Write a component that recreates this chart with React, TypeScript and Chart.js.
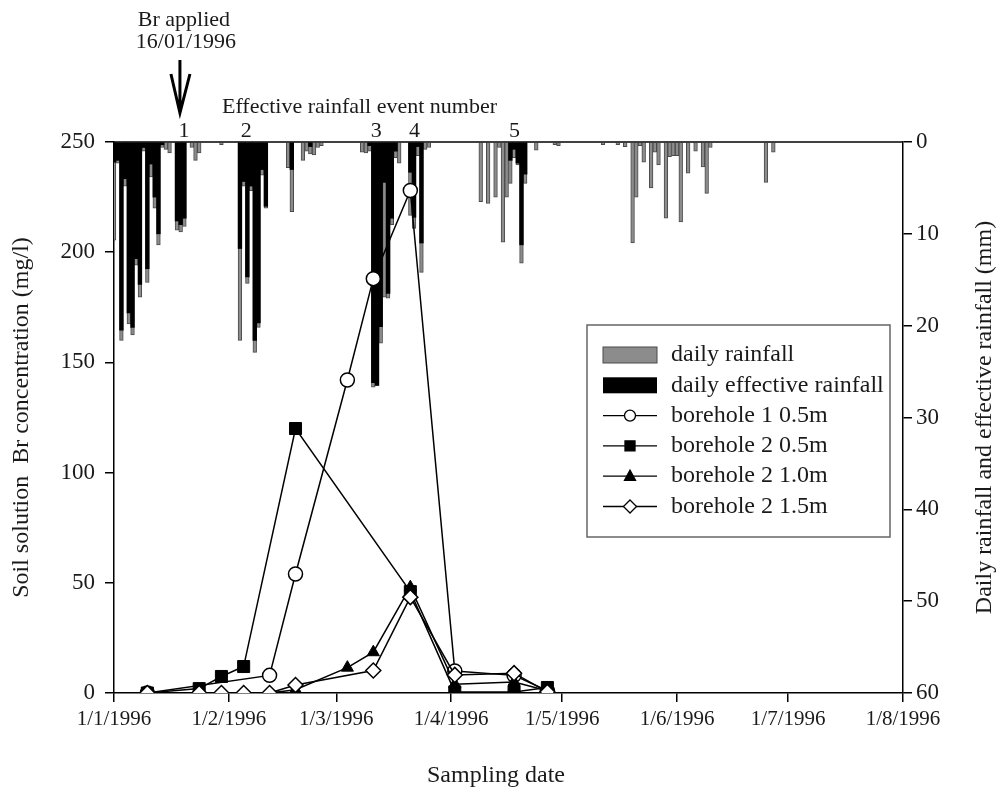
import React, { useEffect, useRef } from 'react';
import { Chart, registerables } from 'chart.js';

Chart.register(...registerables);

const FONT = "'Liberation Serif', 'Times New Roman', serif";

// x axis: day of year 1996 (0 = 1 Jan 1996)
const tickDays = [0, 31, 60, 91, 121, 152, 182, 213];
const tickLabels = ['1/1/1996', '1/2/1996', '1/3/1996', '1/4/1996', '1/5/1996', '1/6/1996', '1/7/1996', '1/8/1996'];

// daily rainfall (mm) and daily effective rainfall (mm)
const rainDays = [
  0, 1, 2, 3, 4, 5, 6, 7, 8, 9, 10, 11, 12, 13, 14, 15, 17, 18, 19, 21, 22, 23, 29,
  34, 35, 36, 37, 38, 39, 40, 41, 47, 48, 51, 52, 53, 54, 55, 56,
  67, 68, 69, 70, 71, 72, 73, 74, 75, 76, 77, 80, 81, 82, 83, 84, 85,
  99, 101, 103, 104, 105, 106, 107, 108, 109, 110, 111, 114, 119, 120, 132,
  136, 138, 140, 141, 142, 143, 145, 146, 147, 149, 150, 151, 152, 153, 155, 157, 159, 160, 161, 176, 178,
];
const rainTotal = [
  10.7, 2.3, 21.6, 4.8, 19.8, 21.0, 13.4, 16.9, 1.0, 15.3, 3.8, 7.2, 11.2, 0.6, 0.8, 1.2, 9.6, 9.8, 9.2, 0.6, 2.0, 1.2, 0.3,
  21.6, 4.8, 15.4, 5.3, 22.9, 20.2, 3.6, 7.2, 2.8, 7.6, 2.0, 1.0, 1.3, 1.4, 0.6, 0.4,
  1.1, 1.2, 1.0, 26.7, 26.5, 21.9, 16.9, 17.0, 9.0, 1.7, 2.3, 8.0, 9.4, 1.5, 14.2, 0.8, 0.6,
  6.5, 6.7, 6.0, 0.6, 10.9, 6.0, 4.5, 1.7, 2.5, 13.2, 4.5, 0.9, 0.3, 0.4, 0.3,
  0.3, 0.5, 11.0, 6.0, 0.4, 2.2, 5.0, 1.1, 2.5, 8.3, 1.6, 1.5, 1.5, 8.7, 3.4, 1.0, 2.7, 5.6, 0.6, 4.4, 1.1,
];
const rainEffective = [
  2.2, 2.0, 20.5, 4.0, 18.6, 20.2, 12.7, 15.5, 0.6, 13.8, 2.4, 6.0, 10.0, 0.3, 0, 0, 8.6, 9.0, 8.3, 0, 0, 0, 0,
  11.6, 4.3, 14.7, 4.8, 21.6, 19.7, 3.0, 7.0, 0, 3.0, 0, 0, 0.5, 0, 0, 0,
  0, 0, 0.4, 26.2, 26.5, 20.1, 4.4, 16.5, 8.3, 1.0, 0, 3.3, 8.2, 0.5, 11.0, 0, 0,
  0, 0, 0, 0, 0, 0, 2.0, 0.8, 2.3, 11.2, 3.5, 0, 0, 0, 0,
  0, 0, 0, 0, 0, 0, 0, 0, 0, 0, 0, 0, 0, 0, 0, 0, 0, 0, 0, 0, 0,
];

// soil solution Br concentration (mg/l)
const bh1_05Days = [9, 42, 49, 63, 70, 80, 92, 108, 117];
const bh1_05Vals = [0, 8, 54, 142, 188, 228, 10, 8, 1];
const bh2_05Days = [9, 23, 29, 35, 49, 80, 92, 108, 117];
const bh2_05Vals = [0, 2, 7.5, 12, 120, 46, 0.5, 0.5, 2.5];
const bh2_10Days = [9, 23, 29, 35, 42, 49, 63, 70, 80, 92, 108, 117];
const bh2_10Vals = [0, 0, 0, 0, 0, 1.5, 11.5, 18.5, 48, 4, 5, 1];
const bh2_15Days = [9, 23, 29, 35, 42, 49, 70, 80, 92, 108, 117];
const bh2_15Vals = [0, 0, 0, 0, 0, 3.6, 10.2, 43.5, 8.2, 9, 0.5];

const eventDays = [18.9, 35.7, 70.8, 81.1, 108.1];
const eventLabels = ['1', '2', '3', '4', '5'];
const brAppliedDay = 17.8;

const legendLabels = [
  'daily rainfall',
  'daily effective rainfall',
  'borehole 1 0.5m',
  'borehole 2 0.5m',
  'borehole 2 1.0m',
  'borehole 2 1.5m',
];

const pts = (days: number[], vals: number[]) => days.map((d, i) => ({ x: d, y: vals[i] }));

function drawMarker(ctx: CanvasRenderingContext2D, kind: string, x: number, y: number, s: number, fill: string) {
  ctx.beginPath();
  if (kind === 'circle') {
    ctx.arc(x, y, s, 0, Math.PI * 2);
  } else if (kind === 'rect') {
    ctx.rect(x - s, y - s, 2 * s, 2 * s);
  } else if (kind === 'triangle') {
    ctx.moveTo(x, y - s * 1.1);
    ctx.lineTo(x + s, y + s * 0.75);
    ctx.lineTo(x - s, y + s * 0.75);
    ctx.closePath();
  } else {
    ctx.moveTo(x, y - s);
    ctx.lineTo(x + s, y);
    ctx.lineTo(x, y + s);
    ctx.lineTo(x - s, y);
    ctx.closePath();
  }
  ctx.fillStyle = fill;
  ctx.fill();
  ctx.lineWidth = 1.3;
  ctx.strokeStyle = '#000';
  ctx.stroke();
}

const annotationPlugin = {
  id: 'annotations',
  afterDraw(chart: any) {
    const { ctx, chartArea, scales } = chart;
    const xs = scales.x;
    ctx.save();
    // top frame line
    ctx.strokeStyle = '#000';
    ctx.lineWidth = 1.5;
    ctx.beginPath();
    ctx.moveTo(chartArea.left, chartArea.top);
    ctx.lineTo(chartArea.right, chartArea.top);
    ctx.stroke();

    ctx.fillStyle = '#1a1a1a';
    ctx.textBaseline = 'middle';
    ctx.textAlign = 'center';
    ctx.font = `22px ${FONT}`;
    // event numbers
    eventDays.forEach((d, i) => {
      ctx.fillText(eventLabels[i], xs.getPixelForValue(d), chartArea.top - 11);
    });
    ctx.textAlign = 'left';
    ctx.fillText('Effective rainfall event number', 222, 107);
    // Br applied
    const ax = xs.getPixelForValue(brAppliedDay);
    ctx.textAlign = 'center';
    ctx.fillText('Br applied', ax + 4, 20);
    ctx.fillText('16/01/1996', ax + 6, 42);
    ctx.strokeStyle = '#000';
    ctx.lineWidth = 3;
    ctx.beginPath();
    ctx.moveTo(ax, 60);
    ctx.lineTo(ax, 112);
    ctx.moveTo(ax - 9, 74);
    ctx.lineTo(ax, 113);
    ctx.lineTo(ax + 10, 74);
    ctx.stroke();

    // axis titles
    ctx.font = `24px ${FONT}`;
    ctx.textAlign = 'center';
    const cy = (chartArea.top + chartArea.bottom) / 2;
    ctx.save();
    ctx.translate(22, cy);
    ctx.rotate(-Math.PI / 2);
    ctx.fillText('Soil solution  Br concentration (mg/l)', 0, 0);
    ctx.restore();
    ctx.save();
    ctx.translate(985, cy);
    ctx.rotate(-Math.PI / 2);
    ctx.fillText('Daily rainfall and effective rainfall (mm)', 0, 0);
    ctx.restore();
    ctx.fillText('Sampling date', 496, 776);

    // legend
    const lx = 587, ly = 325, lw = 303, lh = 212;
    ctx.fillStyle = '#fff';
    ctx.fillRect(lx, ly, lw, lh);
    ctx.strokeStyle = '#666';
    ctx.lineWidth = 1.5;
    ctx.strokeRect(lx, ly, lw, lh);
    const rowY = (i: number) => 355 + i * 30.3;
    const sx0 = 603, sx1 = 657, smid = 630;
    ctx.font = `24px ${FONT}`;
    ctx.textAlign = 'left';
    legendLabels.forEach((lab, i) => {
      const y = rowY(i);
      if (i === 0) {
        ctx.fillStyle = '#8c8c8c';
        ctx.fillRect(sx0, y - 8, sx1 - sx0, 16);
        ctx.strokeStyle = '#4a4a4a';
        ctx.lineWidth = 1;
        ctx.strokeRect(sx0, y - 8, sx1 - sx0, 16);
      } else if (i === 1) {
        ctx.fillStyle = '#000';
        ctx.fillRect(sx0, y - 8, sx1 - sx0, 16);
      } else {
        ctx.strokeStyle = '#000';
        ctx.lineWidth = 1.3;
        ctx.beginPath();
        ctx.moveTo(sx0, y);
        ctx.lineTo(sx1, y);
        ctx.stroke();
        const kinds = ['circle', 'rect', 'triangle', 'rectRot'];
        const fills = ['#fff', '#000', '#000', '#fff'];
        const sizes = [5.5, 5, 5.5, 6.5];
        drawMarker(ctx, kinds[i - 2], smid, y, sizes[i - 2], fills[i - 2]);
      }
      ctx.fillStyle = '#1a1a1a';
      ctx.fillText(lab, 671, y);
    });
    ctx.restore();
  },
};

export default function App() {
  const canvasRef = useRef<HTMLCanvasElement | null>(null);

  useEffect(() => {
    if (!canvasRef.current) return;
    const xTickFont = { family: FONT, size: 21 };
    const yTickFont = { family: FONT, size: 23 };
    const chart = new Chart(canvasRef.current, {
      data: {
        datasets: [
          {
            type: 'line',
            label: 'borehole 2 1.5m',
            data: pts(bh2_15Days, bh2_15Vals),
            xAxisID: 'x',
            yAxisID: 'yL',
            borderColor: '#000',
            borderWidth: 1.5,
            pointStyle: 'rectRot',
            pointRadius: 7.5,
            pointBackgroundColor: '#fff',
            pointBorderColor: '#000',
            pointBorderWidth: 1.5,
            tension: 0,
            order: 0,
          },
          {
            type: 'line',
            label: 'borehole 2 1.0m',
            data: pts(bh2_10Days, bh2_10Vals),
            xAxisID: 'x',
            yAxisID: 'yL',
            borderColor: '#000',
            borderWidth: 1.5,
            pointStyle: 'triangle',
            pointRadius: 7,
            pointBackgroundColor: '#000',
            pointBorderColor: '#000',
            pointBorderWidth: 1,
            tension: 0,
            order: 1,
          },
          {
            type: 'line',
            label: 'borehole 2 0.5m',
            data: pts(bh2_05Days, bh2_05Vals),
            xAxisID: 'x',
            yAxisID: 'yL',
            borderColor: '#000',
            borderWidth: 1.5,
            pointStyle: 'rect',
            pointRadius: 8.5,
            pointBackgroundColor: '#000',
            pointBorderColor: '#000',
            pointBorderWidth: 1,
            tension: 0,
            order: 2,
          },
          {
            type: 'line',
            label: 'borehole 1 0.5m',
            data: pts(bh1_05Days, bh1_05Vals),
            xAxisID: 'x',
            yAxisID: 'yL',
            borderColor: '#000',
            borderWidth: 1.5,
            pointStyle: 'circle',
            pointRadius: 7,
            pointBackgroundColor: '#fff',
            pointBorderColor: '#000',
            pointBorderWidth: 1.5,
            tension: 0,
            order: 3,
          },
          {
            type: 'bar',
            label: 'daily effective rainfall',
            data: pts(rainDays, rainEffective).filter((p) => p.y > 0),
            xAxisID: 'x',
            yAxisID: 'yR',
            backgroundColor: '#000',
            borderWidth: 0,
            barPercentage: 1,
            categoryPercentage: 1,
            grouped: false,
            order: 4,
          },
          {
            type: 'bar',
            label: 'daily rainfall',
            data: pts(rainDays, rainTotal),
            xAxisID: 'x',
            yAxisID: 'yR',
            backgroundColor: '#8c8c8c',
            borderColor: '#4a4a4a',
            borderWidth: 1,
            barPercentage: 1,
            categoryPercentage: 1,
            grouped: false,
            order: 5,
          },
        ],
      } as any,
      options: {
        responsive: false,
        animation: false,
        devicePixelRatio: 1,
        layout: { padding: { top: 142, left: 0, right: 0, bottom: 0 } },
        plugins: { legend: { display: false }, tooltip: { enabled: false } },
        scales: {
          x: {
            type: 'linear',
            position: 'bottom',
            min: 0,
            max: 213,
            offset: false,
            afterBuildTicks: (axis: any) => {
              axis.ticks = tickDays.map((v) => ({ value: v }));
            },
            afterFit: (axis: any) => {
              axis.height = 100;
            },
            ticks: {
              autoSkip: false,
              maxRotation: 0,
              padding: 5,
              color: '#1a1a1a',
              font: xTickFont,
              callback: (_v: any, i: number) => tickLabels[i],
            },
            grid: { display: true, drawOnChartArea: false, tickLength: 9, color: '#000', lineWidth: 1.5, offset: false },
            border: { display: true, color: '#000', width: 1.5 },
          },
          yL: {
            type: 'linear',
            position: 'left',
            min: 0,
            max: 250,
            afterFit: (axis: any) => {
              axis.width = 114;
            },
            ticks: { stepSize: 50, padding: 10, color: '#1a1a1a', font: yTickFont },
            grid: { display: true, drawOnChartArea: false, tickLength: 9, color: '#000', lineWidth: 1.5 },
            border: { display: true, color: '#000', width: 1.5 },
          },
          yR: {
            type: 'linear',
            position: 'right',
            min: 0,
            max: 60,
            reverse: true,
            afterFit: (axis: any) => {
              axis.width = 96;
            },
            ticks: { stepSize: 10, padding: 4, color: '#1a1a1a', font: yTickFont },
            grid: { display: true, drawOnChartArea: false, tickLength: 9, color: '#000', lineWidth: 1.5 },
            border: { display: true, color: '#000', width: 1.5 },
          },
        },
      } as any,
      plugins: [annotationPlugin],
    });
    return () => chart.destroy();
  }, []);

  return (
    <div style={{ position: 'absolute', left: 0, top: 0, width: 999, height: 793, background: '#fff' }}>
      <canvas ref={canvasRef} width={999} height={793} />
    </div>
  );
}
